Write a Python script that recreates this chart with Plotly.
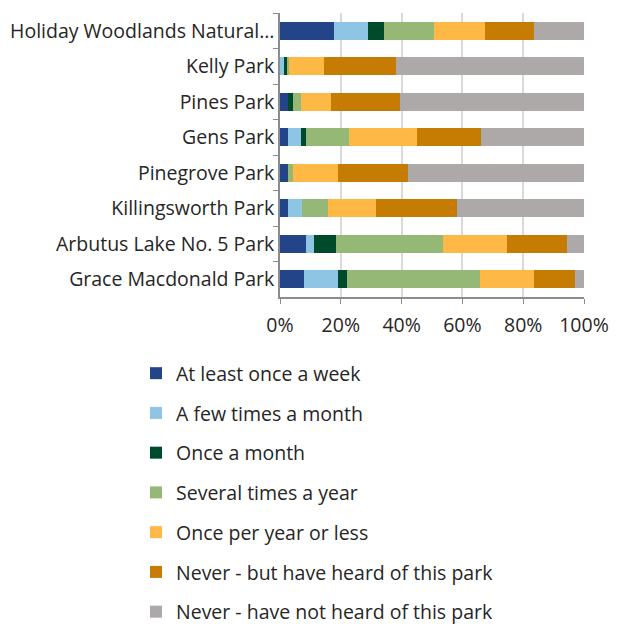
import plotly.graph_objects as go

parks = [
    "Holiday Woodlands Natural…",
    "Kelly Park",
    "Pines Park",
    "Gens Park",
    "Pinegrove Park",
    "Killingsworth Park",
    "Arbutus Lake No. 5 Park",
    "Grace Macdonald Park",
]

series_names = [
    "At least once a week",
    "A few times a month",
    "Once a month",
    "Several times a year",
    "Once per year or less",
    "Never - but have heard of this park",
    "Never - have not heard of this park",
]

at_least_weekly = [17.9, 0.0, 2.7, 2.6, 2.6, 2.7, 8.6, 8.0]
few_times_month = [11.2, 1.2, 0.0, 4.4, 0.0, 4.4, 2.6, 11.1]
once_a_month = [5.2, 1.4, 1.5, 1.5, 0.0, 0.0, 7.2, 3.1]
several_times_year = [16.2, 0.3, 2.6, 14.1, 1.8, 8.8, 35.3, 43.6]
once_per_year_or_less = [17.0, 11.7, 10.1, 22.6, 14.7, 15.8, 20.9, 17.9]
never_but_heard = [16.2, 23.5, 22.5, 20.8, 23.0, 26.6, 19.8, 13.5]
never_not_heard = [16.3, 61.9, 60.6, 34.0, 57.9, 41.7, 5.6, 2.8]

x_tick_vals = [0, 20, 40, 60, 80, 100]
x_tick_text = ["0%", "20%", "40%", "60%", "80%", "100%"]

colors = ["#24448A", "#8EC4E4", "#004A2C", "#95B877", "#FDB845", "#C67C03", "#ADA9A8"]

values = [
    at_least_weekly,
    few_times_month,
    once_a_month,
    several_times_year,
    once_per_year_or_less,
    never_but_heard,
    never_not_heard,
]

fig = go.Figure()
for i, (name, vals, col) in enumerate(zip(series_names, values, colors)):
    fig.add_trace(go.Bar(
        y=parks, x=vals, name=name, orientation="h",
        marker=dict(color=col, line=dict(width=0)),
        legendgroup=f"g{i}",
    ))

font_family = "Open Sans, Noto Sans, sans-serif"
fs = 19.5

# page has an 8px body margin; figure sized so that it fits in the window
W, H = 605, 620

fig.update_layout(
    width=W, height=H,
    barmode="stack",
    bargap=0.5,
    plot_bgcolor="white",
    paper_bgcolor="white",
    font=dict(family=font_family, size=fs, color="#262626"),
    margin=dict(l=272, r=29, t=5, b=331, autoexpand=False),
    showlegend=True,
    legend=dict(
        orientation="v",
        xref="container", yref="container",
        x=128 / W, xanchor="left",
        y=1 - 346 / H, yanchor="top",
        traceorder="grouped",
        tracegroupgap=11.4,
        font=dict(size=fs, color="#262626"),
        itemwidth=30,
    ),
    xaxis=dict(
        range=[0, 100],
        tickvals=x_tick_vals,
        ticktext=x_tick_text,
        showgrid=True, gridcolor="#D9D9D9", gridwidth=1.5,
        showline=True, linecolor="#8C8C8C", linewidth=1.5,
        ticks="outside", ticklen=5, tickcolor="#8C8C8C",
        ticklabelstandoff=5,
        zeroline=False,
        tickfont=dict(size=fs),
    ),
    yaxis=dict(
        autorange="reversed",
        showline=True, linecolor="#8C8C8C", linewidth=1.5,
        ticks="outside", ticklen=5, tickcolor="#8C8C8C",
        tickson="boundaries",
        ticklabelstandoff=0,
        showgrid=False,
        tickfont=dict(size=fs),
    ),
)

fig.write_html("out.html")
